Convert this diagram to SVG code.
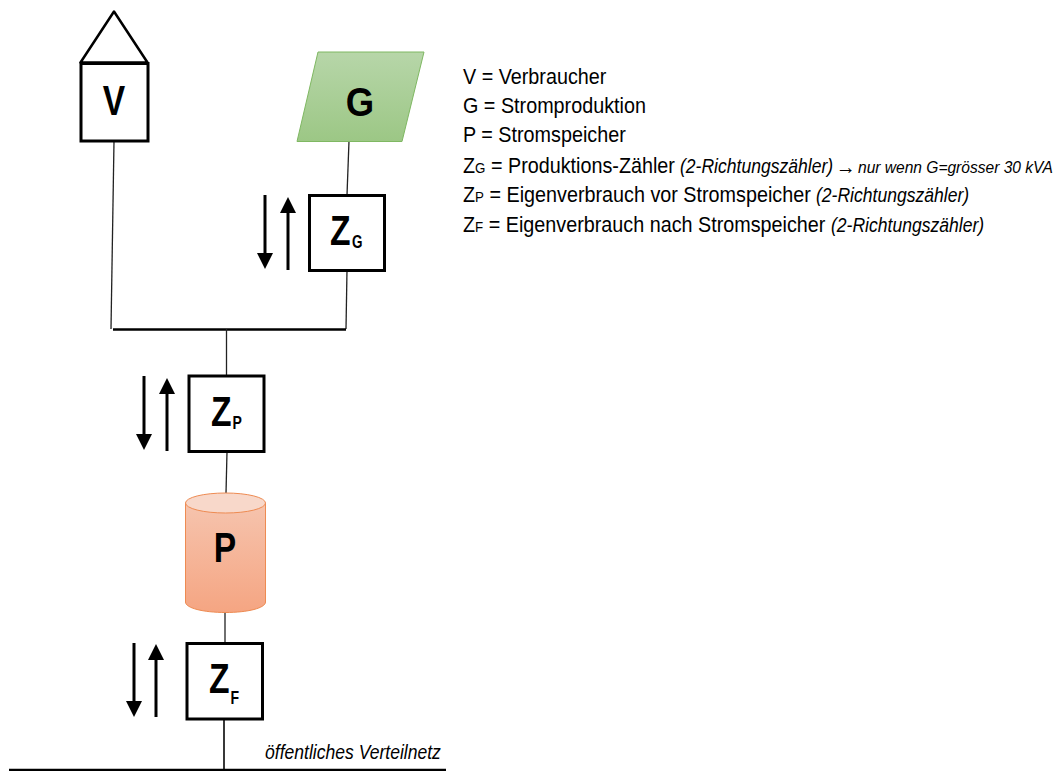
<svg xmlns="http://www.w3.org/2000/svg" width="1064" height="771" viewBox="0 0 1064 771">
<style>
text{font-family:"Liberation Sans",Arial,sans-serif;fill:#000}
.box{fill:#fff;stroke:#000;stroke-width:3}
.wire{fill:none;stroke:#222;stroke-width:1.3}
.bus{fill:none;stroke:#000;stroke-width:2.5}
.arrow{fill:none;stroke:#000;stroke-width:3;marker-end:url(#head)}
.big{font-size:42px;font-weight:bold}
.sub{font-size:18px;font-weight:bold}
.lg{font-size:21.5px}
.lgs{font-size:14.5px}
.it{font-size:19.5px;font-style:italic}
.it2{font-size:17.3px;font-style:italic}
</style>
<defs>
<marker id="head" markerUnits="userSpaceOnUse" markerWidth="16" markerHeight="16" refX="1" refY="8" orient="auto"><path d="M0 0L16 8L0 16Z" fill="#000"/></marker>
<linearGradient id="gG" x1="0" y1="0" x2="0" y2="1"><stop offset="0" stop-color="#b7d6a9"/><stop offset="1" stop-color="#9cc785"/></linearGradient>
<linearGradient id="gP" x1="0" y1="0" x2="0" y2="1"><stop offset="0" stop-color="#f6c4ae"/><stop offset="1" stop-color="#f5a582"/></linearGradient>
</defs>
<g id="connectors">
<path class="wire" d="M114 141L111 329"/>
<path class="wire" d="M349 141L347 195"/>
<path class="wire" d="M347 270L346 329"/>
<path class="bus" d="M113 329.500H346"/>
<path class="wire" d="M226.500 329V376"/>
<path class="wire" d="M227 452L226 493"/>
<path class="wire" d="M225 612V643"/>
<path class="wire" style="stroke-width:1.800" d="M224 719V769"/>
<path class="bus" d="M9 770H446"/>
<path class="arrow" d="M265 195V254"/>
<path class="arrow" d="M288 270V212"/>
<path class="arrow" d="M144 376V435"/>
<path class="arrow" d="M167 451V393"/>
<path class="arrow" d="M134 643V702"/>
<path class="arrow" d="M156 717V659"/>
</g>
<g id="node-V">
<path d="M80.500 62.500L114 11.500L147.500 62.500Z" fill="#fff" stroke="#000" stroke-width="2.500" stroke-linejoin="round"/>
<rect class="box" x="81" y="63.500" width="67" height="77.500"/>
<text class="big" transform="translate(114 115) scale(.8 1)" text-anchor="middle">V</text>
</g>
<g id="node-G">
<path d="M318 52H424L402 141.500H297Z" fill="url(#gG)" stroke="#7fb862" stroke-width="1"/>
<text class="big" transform="translate(360 116) scale(.87 .96)" text-anchor="middle">G</text>
</g>
<g id="node-ZG">
<rect class="box" x="309.500" y="195.500" width="75" height="75"/>
<text class="big" transform="translate(330 245) scale(.8 1)">Z</text>
<text class="sub" transform="translate(352 248) scale(.75 1)">G</text>
</g>
<g id="node-ZP">
<rect class="box" x="189" y="376" width="75" height="75.500"/>
<text class="big" transform="translate(211 426) scale(.8 1)">Z</text>
<text class="sub" transform="translate(232.500 429) scale(.78 1)">P</text>
</g>
<g id="node-P">
<path d="M185.500 503V602C185.500 608 203 612.500 225.500 612.500S265.500 608 265.500 602V503Z" fill="url(#gP)" stroke="#ee8b52" stroke-width="1"/>
<ellipse cx="225.500" cy="503" rx="40" ry="10" fill="#f8d8ca" stroke="#ee8b52" stroke-width="1"/>
<text class="big" transform="translate(225 562) scale(.8 1)" text-anchor="middle">P</text>
</g>
<g id="node-ZF">
<rect class="box" x="187" y="643.500" width="75.500" height="75.500"/>
<text class="big" transform="translate(209 693) scale(.8 1)">Z</text>
<text class="sub" transform="translate(230.500 704) scale(.78 1)">F</text>
</g>
<g id="legend">
<text class="lg" transform="translate(463 84) scale(.92 1)">V = Verbraucher</text>
<text class="lg" transform="translate(463 113) scale(.92 1)">G = Stromproduktion</text>
<text class="lg" transform="translate(463 142) scale(.92 1)">P = Stromspeicher</text>
<text class="lg" transform="translate(463 173) scale(.92 1)">Z<tspan class="lgs">G</tspan> = Produktions-Zähler</text>
<text class="it" transform="translate(680 173) scale(.9 1)">(2-Richtungszähler)</text>
<text class="it" transform="translate(836 174) scale(.9 1)" style="font-weight:bold;font-style:normal;font-size:22px">→</text>
<text class="it2" transform="translate(858 173) scale(.9 1)">nur wenn G=grösser 30 kVA</text>
<text class="lg" transform="translate(463 202) scale(.92 1)">Z<tspan class="lgs">P</tspan> = Eigenverbrauch vor Stromspeicher</text>
<text class="it" transform="translate(816 202) scale(.9 1)">(2-Richtungszähler)</text>
<text class="lg" transform="translate(463 232) scale(.92 1)">Z<tspan class="lgs">F</tspan> = Eigenverbrauch nach Stromspeicher</text>
<text class="it" transform="translate(831 232) scale(.9 1)">(2-Richtungszähler)</text>
</g>
<text class="it" transform="translate(265 759) scale(.9 1)">öffentliches Verteilnetz</text>
</svg>
